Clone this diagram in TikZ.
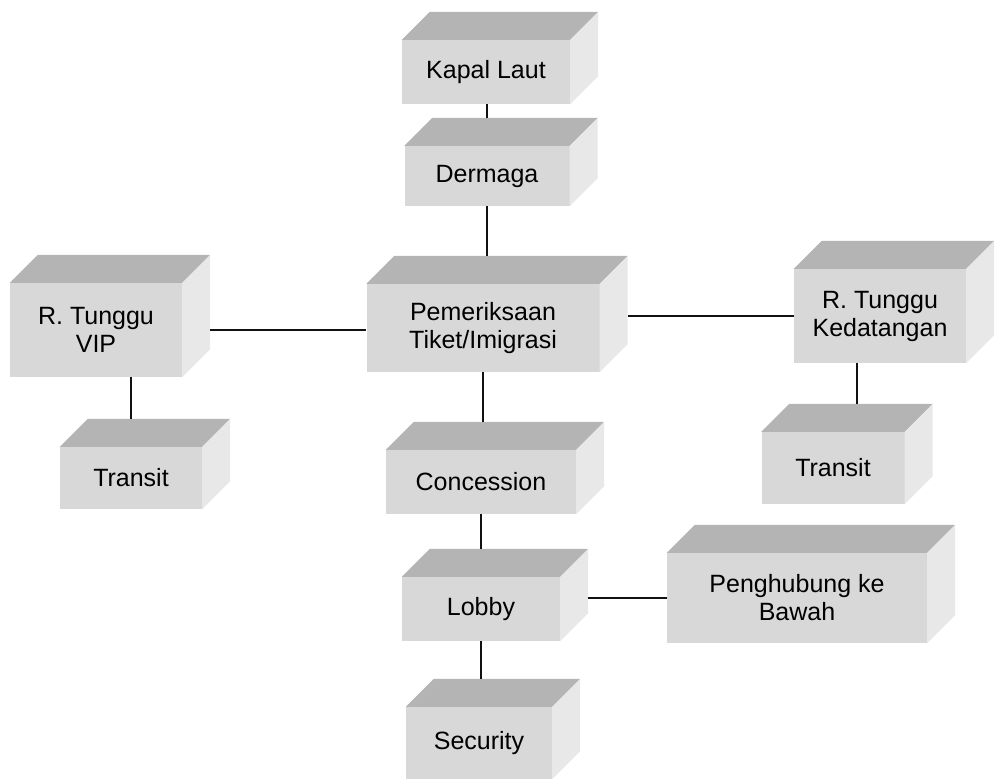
\documentclass[tikz,border=0pt]{standalone}
\usepackage{fontspec}
\setmainfont{Liberation Sans}
\usepackage{xcolor}
\usepackage{tikz}
\usetikzlibrary{calc}
\definecolor{front}{HTML}{D8D8D8}
\definecolor{top}{HTML}{B4B4B4}
\definecolor{side}{HTML}{E8E8E8}
\definecolor{line}{HTML}{111111}
\newcommand{\dpx}{28}

\begin{document}
\begin{tikzpicture}[
  x=1pt, y=-1pt,
  font=\fontsize{25}{28}\selectfont,
  blok/.style={fill=front, inner sep=0pt, align=center},
  conn/.style={draw=line, line width=2pt}
]
\useasboundingbox (0,0) rectangle (996,779);
% front faces
\node[blok, minimum width=168, minimum height=64] (kapal) at (486,72) {Kapal Laut};
\node[blok, minimum width=165, minimum height=60] (dermaga) at (487,176) {Dermaga};
\node[blok, minimum width=233, minimum height=88] (periksa) at (483,328) {Pemeriksaan\\Tiket/Imigrasi};
\node[blok, minimum width=172, minimum height=94] (vip) at (96,330) {R. Tunggu\\VIP};
\node[blok, minimum width=142, minimum height=62] (transitvip) at (131,478) {Transit};
\node[blok, minimum width=190, minimum height=64] (concession) at (481,482) {Concession};
\node[blok, minimum width=158, minimum height=64] (lobby) at (481,609) {Lobby};
\node[blok, minimum width=146, minimum height=72] (security) at (479,743) {Security};
\node[blok, minimum width=172, minimum height=94] (datang) at (880,316) {R. Tunggu\\Kedatangan};
\node[blok, minimum width=143, minimum height=72] (transitdatang) at (833,468) {Transit};
\node[blok, minimum width=260, minimum height=90] (bawah) at (797,598) {Penghubung ke\\Bawah};
% top and side faces
\foreach \n in {kapal,dermaga,periksa,vip,transitvip,concession,lobby,security,datang,transitdatang,bawah} {
  \fill[top] (\n.north west) -- ++(\dpx,-\dpx) -- ($(\n.north east)+(\dpx,-\dpx)$) -- (\n.north east) -- cycle;
  \fill[side] (\n.north east) -- ++(\dpx,-\dpx) -- ($(\n.south east)+(\dpx,-\dpx)$) -- (\n.south east) -- cycle;
  \coordinate (\n-b) at ($(\n.north)+(0,-\dpx)$);
  \coordinate (\n-r) at ($(\n.east)+(\dpx,0)$);
}
% connectors
\draw[conn] (dermaga-b) -- (dermaga-b |- kapal.south);
\draw[conn] (dermaga.south) -- (dermaga.south |- periksa-b);
\draw[conn] (periksa.south) -- (periksa.south |- concession-b);
\draw[conn] (concession.south) -- (concession.south |- lobby-b);
\draw[conn] (lobby.south) -- (lobby.south |- security-b);
\draw[conn] (vip-r) -- (vip-r -| periksa.west);
\draw[conn] (datang.west) -- (datang.west -| periksa-r);
\draw[conn] (bawah.west) -- (bawah.west -| lobby-r);
\draw[conn] (transitvip-b) -- (transitvip-b |- vip.south);
\coordinate (datang-t) at ($(datang-b)!0.5!(transitdatang-b)$);
\draw[conn] (datang-t |- transitdatang-b) -- (datang-t |- datang.south);
\end{tikzpicture}
\end{document}
